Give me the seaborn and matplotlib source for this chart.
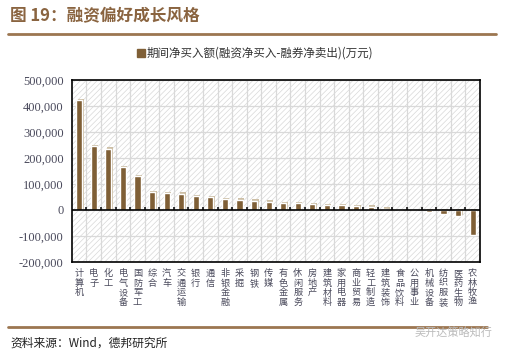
import numpy as np
import pandas as pd
import matplotlib
matplotlib.use('Agg')
import matplotlib.pyplot as plt
import matplotlib.patheffects as pe
from matplotlib.patches import Rectangle
from matplotlib.lines import Line2D
import seaborn as sns

# 行业与期间净买入额（万元）
industries = ['计算机', '电子', '化工', '电气设备', '国防军工', '综合', '汽车', '交通运输',
              '银行', '通信', '非银金融', '采掘', '钢铁', '传媒', '有色金属', '休闲服务',
              '房地产', '建筑材料', '家用电器', '商业贸易', '轻工制造', '建筑装饰',
              '食品饮料', '公用事业', '机械设备', '纺织服装', '医药生物', '农林牧渔']
net_buy = [423000, 246000, 236000, 164000, 130000, 69000, 65000, 62000,
           54000, 48000, 41000, 39000, 36000, 32000, 26000, 25000,
           22000, 19000, 18000, 14000, 12000, 5000,
           -800, -1500, -9000, -17000, -23000, -96000]
yticks = [-200000, -100000, 0, 100000, 200000, 300000, 400000, 500000]
legend_label = '期间净买入额(融资净买入-融券净卖出)(万元)'

df = pd.DataFrame({'industry': industries, 'value': net_buy})

sns.set_theme(style='white')
plt.rcParams['font.family'] = ['Noto Sans CJK SC', 'DejaVu Sans']
plt.rcParams['hatch.linewidth'] = 0.5

bar_color = '#7f5f36'
brown = '#9c7650'

fig = plt.figure(figsize=(5.1, 3.55), dpi=100)
ax = fig.add_axes([0.141, 0.262, 0.8, 0.513])

# 斜线底纹
ax.add_patch(Rectangle((0, 0), 1, 1, transform=ax.transAxes, facecolor='white',
                       edgecolor='#d8d8d8', hatch='//////', lw=0.01, zorder=0))

sns.barplot(data=df, x='industry', y='value', color=bar_color, width=0.42,
            saturation=1, ax=ax, zorder=3)
for p in ax.patches[1:]:
    p.set_path_effects([pe.SimplePatchShadow(offset=(1, 1), shadow_rgbFace='#cdbfa6', alpha=1),
                        pe.Normal()])

n = len(industries)
bounds = np.arange(1, n) - 0.5
ax.set_xlim(-0.5, n - 0.5)
ax.set_ylim(yticks[0], yticks[-1])
ax.set_yticks(yticks, labels=[f'{v:,}' for v in yticks], fontfamily='Liberation Serif',
              fontsize=9, color='#4a4a5c')
ax.grid(axis='y', color='#d9d9d9', lw=0.9, zorder=1)
for b in bounds:
    ax.axvline(b, color='#d9d9d9', lw=0.9, zorder=1)

# 零轴及向上刻度
ax.axhline(0, color='black', lw=1.2, zorder=4)
ax.plot(bounds, np.zeros(len(bounds)), ls='', marker=2, markersize=2.4,
        markeredgewidth=1.1, color='black', zorder=4)

ax.set_xlabel('')
ax.set_ylabel('')
ax.set_xticks(range(n))
ax.set_xticklabels(['\n'.join(s) for s in industries], rotation=0, va='top',
                   fontsize=6.6, color='#4a4a5c', linespacing=1.1)
ax.tick_params(axis='x', which='both', length=0, pad=5)
ax.tick_params(axis='y', length=0, pad=6)

for sp in ax.spines.values():
    sp.set_visible(True)
    sp.set_color('black')
    sp.set_linewidth(1.2)
    sp.set_zorder(5)

# 图例
handle = Line2D([], [], marker='s', ls='', color=bar_color, markersize=6)
fig.legend([handle], [legend_label], loc='center', bbox_to_anchor=(0.5, 0.85),
           frameon=False, fontsize=8.3, handletextpad=0.1, handlelength=0.8,
           labelcolor='#333333')

# 标题与页眉页脚
fig.text(0.02, 0.953, '图 19：融资偏好成长风格', fontsize=12, fontweight='bold',
         color='#8a6440', va='center')
fig.add_artist(Line2D([0.016, 0.973], [0.903, 0.903], color=brown, lw=2))
fig.add_artist(Line2D([0.016, 0.955], [0.079, 0.079], color=brown, lw=2))
fig.text(0.02, 0.034, '资料来源：Wind，德邦研究所', fontsize=8.5, color='#222222', va='center')
fig.text(0.965, 0.062, '吴开达策略知行', fontsize=8, color='#bbbbbb', va='center', ha='right')

fig.savefig('out.png', dpi=100)
